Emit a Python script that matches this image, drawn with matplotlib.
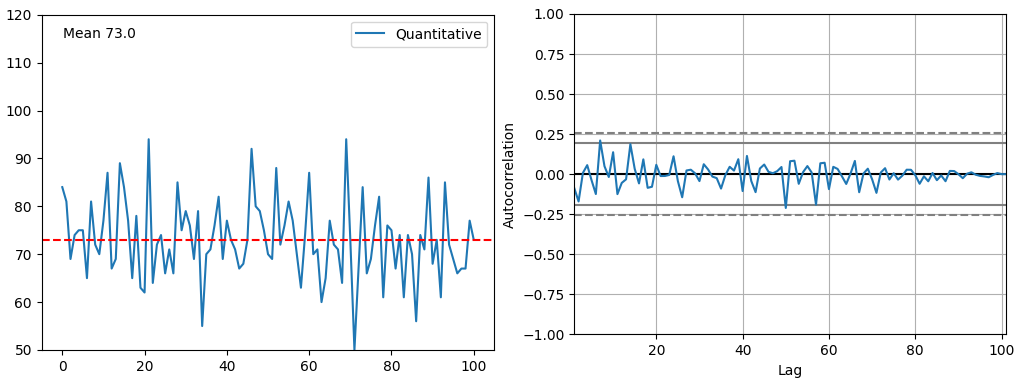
import numpy as np
import pandas as pd
import matplotlib
matplotlib.use("Agg")
import matplotlib.pyplot as plt
from pandas.plotting import autocorrelation_plot

# values (index 0..100)
values = [84, 81, 69, 74, 75, 75, 65, 81, 72, 70,
          77, 87, 67, 69, 89, 84, 77, 65, 78, 63,
          62, 94, 64, 72, 74, 66, 71, 66, 85, 75,
          79, 76, 69, 79, 55, 70, 71, 76, 82, 69,
          77, 73, 71, 67, 68, 73, 92, 80, 79, 75,
          70, 69, 88, 72, 76, 81, 77, 70, 63, 74,
          87, 70, 71, 60, 65, 77, 72, 71, 64, 94,
          73, 50, 67, 84, 66, 69, 76, 82, 61, 76,
          75, 67, 74, 61, 74, 70, 56, 74, 71, 86,
          68, 73, 61, 85, 72, 69, 66, 67, 67, 77, 73]
series_name = "Quantitative"

s = pd.Series(values, name=series_name)
mean = s.mean()

fig = plt.figure(figsize=(10.22, 3.81), dpi=100)

# left: the series with its mean
ax1 = fig.add_axes([0.0408, 0.0814, 0.4429, 0.880])
ax1.plot(s.index, s.values, label=series_name)
ax1.axhline(mean, color="red", linestyle="--")
ax1.set_ylim(50, 120)
ax1.set_xlim(-5, 105)
ax1.text(0.047, 0.942, f"Mean {mean:.1f}", transform=ax1.transAxes, va="center")
ax1.legend(loc="upper right")

# right: autocorrelation (limits are only set by pandas when no ax is given)
ax2 = fig.add_axes([0.5619, 0.1226, 0.4224, 0.8407])
autocorrelation_plot(s, ax=ax2)
ax2.set_xlim(1, len(s))
ax2.set_ylim(-1.0, 1.0)

fig.savefig("out.png", dpi=100)
